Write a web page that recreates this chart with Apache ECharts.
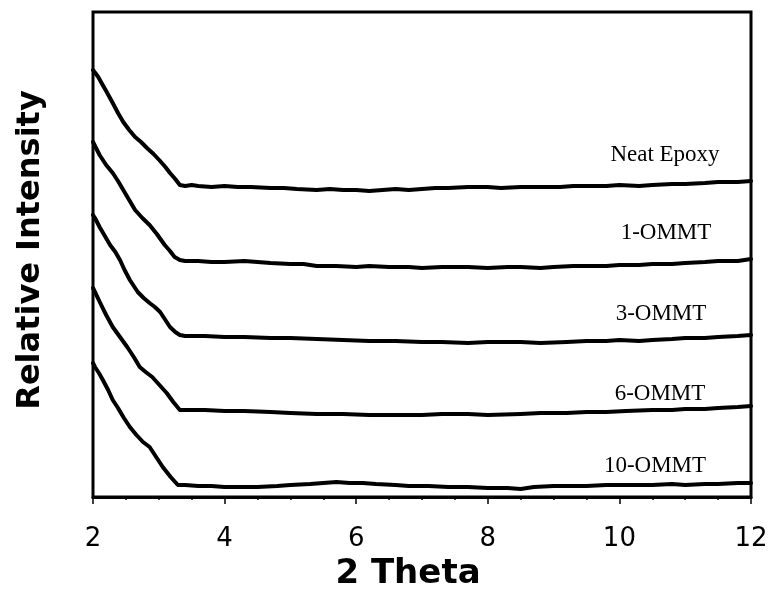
<!DOCTYPE html>
<html><head><meta charset="utf-8">
<script src="https://cdn.jsdelivr.net/npm/echarts@6/dist/echarts.min.js"></script>
<style>html,body{margin:0;padding:0;background:#fff}#c{width:775px;height:589px}</style>
</head><body><div id="c"></div>
<script>
// 2-theta values and relative intensities (arbitrary units) for each sample
const xTicks = [2, 4, 6, 8, 10, 12];
const seriesNames = ["Neat Epoxy", "1-OMMT", "3-OMMT", "6-OMMT", "10-OMMT"];

const thetaNeat = [2.00,2.03,2.08,2.13,2.20,2.30,2.38,2.46,2.55,2.64,2.73,2.82,2.92,3.02,3.10,3.17,3.25,3.32,3.40,3.5,3.6,3.8,4.0,4.2,4.4,4.7,4.9,5.1,5.4,5.6,5.8,6.0,6.2,6.4,6.6,6.8,7.0,7.2,7.4,7.7,8.0,8.2,8.5,8.8,9.1,9.3,9.5,9.8,10.0,10.3,10.5,10.8,11.0,11.3,11.5,11.8,12.0];
const intNeat   = [427,426,420,414,406,394,384,375,367,360,355,349,343,336,330,324,318,312,311,312,311,310,311,310,310,309,309,308,307,308,307,307,306,307,308,307,308,309,309,310,310,309,310,310,310,311,311,311,312,311,312,313,313,314,315,315,316];

const theta1 = [2.00,2.03,2.10,2.20,2.30,2.38,2.46,2.55,2.64,2.75,2.86,2.97,3.09,3.17,3.24,3.32,3.40,3.6,3.8,4.0,4.3,4.7,5.0,5.2,5.4,5.7,6.0,6.2,6.5,6.8,7.0,7.3,7.7,8.0,8.3,8.5,8.8,9.0,9.3,9.5,9.8,10.0,10.3,10.5,10.8,11.0,11.3,11.5,11.8,12.0];
const int1   = [355,353,342,332,324,316,307,297,287,279,272,263,252,246,240,237,236,236,235,235,236,234,233,233,231,231,230,231,230,230,229,230,230,229,230,230,229,230,231,231,231,232,232,233,233,234,235,236,236,238];

const theta3 = [2.00,2.03,2.10,2.18,2.26,2.34,2.41,2.48,2.56,2.68,2.77,2.86,2.94,3.02,3.10,3.17,3.25,3.32,3.40,3.7,4.0,4.3,4.7,5.0,5.4,5.8,6.2,6.6,7.0,7.3,7.7,8.0,8.5,8.8,9.2,9.5,9.8,10.0,10.3,10.5,10.8,11.0,11.3,11.5,11.8,12.0];
const int3   = [282,279,270,261,252,245,237,227,217,205,199,194,190,185,177,170,165,162,161,161,160,160,159,159,158,157,156,156,155,155,154,155,155,154,155,156,156,157,156,157,158,159,159,160,161,162];

const theta6 = [2.00,2.03,2.11,2.20,2.30,2.41,2.52,2.62,2.71,2.80,2.90,3.01,3.12,3.22,3.32,3.40,3.7,4.0,4.3,4.7,5.0,5.4,5.8,6.2,6.6,7.0,7.3,7.7,8.0,8.5,8.8,9.2,9.5,9.8,10.1,10.5,10.8,11.0,11.3,11.5,11.8,12.0];
const int6   = [209,205,194,182,170,160,150,140,130,125,120,112,104,95,87,87,87,86,86,85,84,83,83,82,82,82,83,83,82,83,84,84,85,85,86,87,87,88,88,89,90,91];

const theta10 = [2.00,2.03,2.09,2.15,2.23,2.30,2.38,2.47,2.56,2.66,2.76,2.86,2.96,3.06,3.18,3.29,3.40,3.6,3.8,4.0,4.3,4.5,4.8,5.0,5.3,5.5,5.7,5.9,6.1,6.3,6.6,6.8,7.1,7.4,7.7,8.0,8.3,8.5,8.7,9.0,9.3,9.5,9.8,10.0,10.3,10.5,10.8,11.0,11.3,11.5,11.8,12.0];
const int10   = [134,130,124,117,107,97,89,79,70,62,55,50,40,30,20,12,12,11,11,10,10,10,11,12,13,14,15,14,14,13,12,11,11,10,10,9,9,8,10,11,11,11,12,12,12,12,13,12,13,13,14,14];

const thetas = [thetaNeat, theta1, theta3, theta6, theta10];
const ints = [intNeat, int1, int3, int6, int10];

const labelPos = [[665,155],[666,233],[661,314],[660,394],[655,466]];

const chart = echarts.init(document.getElementById('c'), null, {renderer:'canvas'});
const series = seriesNames.map((n,i)=>({
  name:n, type:'line', showSymbol:false, symbol:'none', smooth:false,
  data: thetas[i].map((x,j)=>[x, ints[i][j]]),
  lineStyle:{color:'#000', width:4, join:'round', cap:'round'},
  animation:false
}));
chart.setOption({
  animation:false,
  backgroundColor:'#fff',
  grid:{left:93, right:24, top:12, bottom:92, show:true, borderColor:'#000', borderWidth:3, containLabel:false},
  xAxis:{type:'value', min:2, max:12, interval:2,
    axisLine:{lineStyle:{color:'#000', width:3}},
    axisTick:{show:true, inside:false, length:7, lineStyle:{color:'#000', width:1.5}},
    minorTick:{show:true, splitNumber:4, length:3, lineStyle:{color:'#000', width:1.5}},
    splitLine:{show:false},
    axisLabel:{color:'#000', fontFamily:'DejaVu Sans', fontSize:26, margin:29,
      formatter:(v)=> xTicks.includes(v) ? String(v) : ''}
  },
  yAxis:{type:'value', min:0, max:485, show:true,
    axisLine:{show:false}, axisTick:{show:false}, axisLabel:{show:false}, splitLine:{show:false}},
  series,
  graphic:[
    ...seriesNames.map((n,i)=>({type:'text', x:labelPos[i][0], y:labelPos[i][1],
      style:{text:n, font:'23px "Liberation Serif"', fill:'#000', align:'center', verticalAlign:'middle'}})),
    {type:'text', x:408, y:574, style:{text:'2 Theta', font:'bold 34px "DejaVu Sans"', fill:'#000', align:'center', verticalAlign:'middle'}},
    {type:'text', x:31, y:250, rotation:Math.PI/2, style:{text:'Relative Intensity', font:'bold 32px "DejaVu Sans"', fill:'#000', align:'center', verticalAlign:'middle'}}
  ]
});
</script></body></html>
